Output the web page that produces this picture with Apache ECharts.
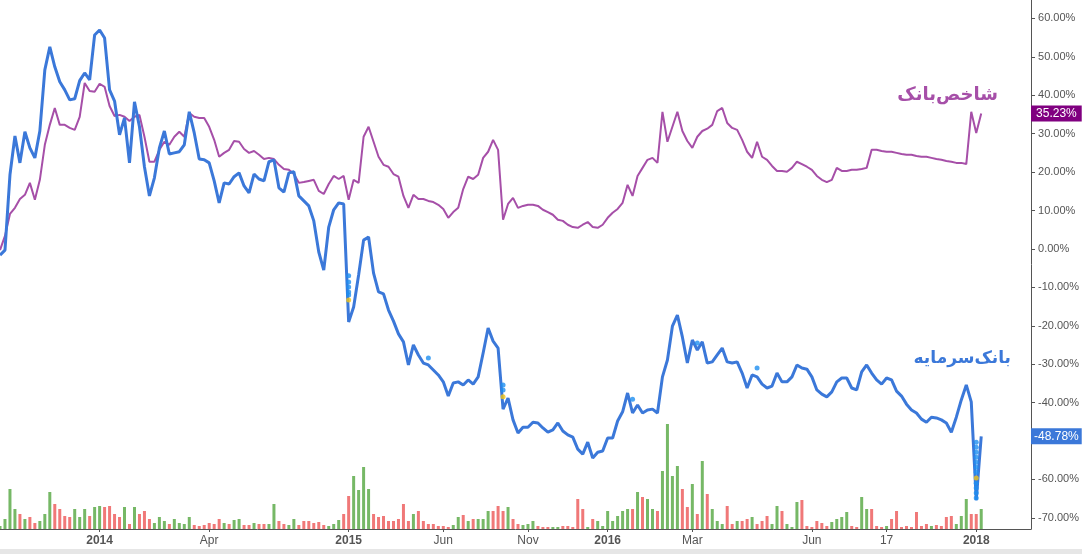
<!DOCTYPE html>
<html><head><meta charset="utf-8">
<script src="https://cdn.jsdelivr.net/npm/echarts@6/dist/echarts.min.js"></script>
<style>html,body{margin:0;padding:0;background:#fff}#c{width:1082px;height:554px}</style>
</head><body><div id="c"></div>
<script>
// Cumulative return (%) of بانک‌سرمایه (stock) per trading slot
const bankSarmayeh = [
 -1.6,-0.3,19.3,29.4,22.4,30.5,26.3,23.7,30.7,46.6,
 52.6,47.4,43.5,41.4,38.8,39.1,43.8,45.8,44.0,55.7,
 57.0,54.9,41.4,38.5,29.7,34.1,22.4,38.3,31.8,21.4,
 13.8,18.5,26.3,30.7,24.7,25.0,25.3,27.1,35.7,30.2,
 23.4,23.2,22.4,17.7,12.0,17.2,16.9,18.8,19.8,16.4,
 14.6,19.5,18.2,17.7,22.7,23.2,15.9,14.8,19.8,20.1,
 13.8,12.5,11.2,7.3,-0.8,-5.5,5.7,10.2,12.0,11.7,
 -19.0,-15.1,-6.8,2.3,3.1,-6.3,-11.2,-11.7,-15.9,-18.8,
 -22.1,-24.2,-30.2,-25.0,-27.6,-29.7,-30.2,-31.5,-32.8,-34.6,
 -38.3,-34.9,-34.6,-35.4,-34.1,-35.2,-33.3,-27.1,-20.6,-24.0,
 -25.8,-41.7,-38.8,-44.5,-47.9,-46.4,-46.4,-45.1,-45.3,-46.6,
 -47.7,-47.1,-45.3,-47.4,-48.4,-49.0,-52.1,-53.4,-50.3,-54.4,
 -52.9,-52.6,-49.2,-49.2,-44.8,-42.4,-37.5,-42.7,-40.6,-42.7,
 -41.9,-41.7,-42.7,-33.3,-28.9,-20.1,-17.2,-22.9,-29.7,-23.7,
 -26.3,-24.2,-29.7,-29.4,-27.6,-25.8,-29.4,-29.7,-29.4,-32.3,
 -36.2,-32.8,-33.3,-35.2,-36.2,-35.7,-32.3,-34.6,-34.6,-33.3,
 -30.2,-31.0,-31.3,-33.3,-36.7,-37.8,-38.5,-37.2,-34.6,-33.6,
 -33.6,-36.2,-36.7,-32.0,-30.2,-32.3,-34.1,-35.2,-33.6,-34.1,
 -37.0,-38.3,-40.4,-41.9,-42.7,-44.3,-45.1,-43.8,-44.0,-44.5,
 -45.3,-47.7,-43.8,-39.3,-35.4,-39.8,-65.4,-48.78
];
// Cumulative return (%) of شاخص‌بانک (bank index)
const bankIndex = [
 -0.3,3.4,9.1,10.7,13.0,14.1,17.2,12.8,18.0,27.1,
 32.3,36.7,32.3,32.3,31.5,31.0,34.4,43.2,41.1,40.9,
 43.0,42.2,37.2,34.6,34.9,34.4,33.3,34.4,34.9,29.2,
 22.7,22.7,25.8,27.9,27.1,29.2,30.5,29.2,35.4,34.4,
 34.1,34.1,31.8,28.4,24.0,25.0,25.8,28.1,27.9,26.0,
 25.0,25.5,24.5,23.4,23.7,23.4,21.9,20.8,20.6,19.5,
 17.2,17.4,17.7,18.0,15.1,14.3,16.9,19.0,18.2,19.0,
 12.8,18.0,17.2,29.2,31.8,27.9,24.0,21.9,21.4,19.5,
 18.8,13.8,10.7,14.1,13.0,13.0,12.5,12.2,11.5,10.4,
 8.1,9.6,10.7,15.6,18.8,18.2,19.3,23.7,25.3,28.4,
 25.8,7.6,11.7,13.3,10.7,11.2,11.5,11.5,11.2,10.2,
 9.6,8.9,7.6,7.3,6.3,5.7,5.5,6.3,7.0,5.7,
 5.5,6.3,8.1,9.4,10.4,12.0,16.7,13.8,19.0,21.1,
 23.2,23.7,22.4,35.7,27.9,31.8,35.7,30.7,28.1,26.3,
 29.2,30.7,31.3,32.3,35.9,36.7,32.8,31.5,31.0,28.4,
 25.3,23.7,27.9,24.0,23.2,21.6,20.3,20.3,20.1,21.1,
 22.7,22.1,21.4,20.6,19.0,18.0,17.4,18.0,21.1,20.3,
 20.3,20.6,20.6,20.8,21.1,25.8,25.8,25.5,25.3,25.3,
 25.0,24.7,24.5,24.5,24.2,24.0,24.0,23.7,23.4,23.2,
 22.9,22.7,22.4,22.4,22.1,35.7,30.2,35.23
];
// Traded volume (relative units)
const volume = [
 3,10,40,20,15,10,12,6,8,15,
 37,25,20,13,12,20,12,20,13,22,
 23,22,23,15,12,22,5,22,15,18,
 10,6,12,8,5,10,6,5,12,4,
 3,4,6,5,10,6,5,9,10,4,
 4,6,5,5,5,25,8,5,4,10,
 4,8,8,6,7,4,3,5,9,15,
 33,53,39,62,40,15,12,13,8,8,
 10,25,8,15,18,8,5,5,3,3,
 2,4,12,14,8,10,10,10,18,18,
 23,18,22,10,5,4,5,8,3,2,
 2,2,2,3,3,2,30,20,2,10,
 8,3,18,8,13,18,20,20,37,32,
 30,20,18,58,105,53,63,40,22,45,
 15,68,35,20,8,5,23,5,8,8,
 10,12,5,8,13,5,23,18,5,2,
 27,29,3,2,8,6,3,7,10,12,
 17,3,2,32,20,20,3,2,3,10,
 18,2,3,2,17,3,5,3,4,3,
 12,13,5,13,30,15,15,20
];
const tickIndex = [20, 42, 70, 89, 106, 122, 139, 163, 178, 196];
const tickText = ['2014','Apr','2015','Jun','Nov','2016','Mar','Jun','17','2018'];
const tickBold = [true,false,true,false,false,true,false,false,false,true];
const yTicks = [-70,-60,-50,-40,-30,-20,-10,0,10,20,30,40,50,60];
const markersBlue = [[70,-7.0],[70,-8.6],[70,-9.9],[70,-11.2],[70,-12.0],[86,-28.4],[101,-35.4],[101,-36.7],[127,-39.1],[140,-24.5],[152,-31.0],
 [196,-50.3],[196,-51.6],[196,-52.9],[196,-54.2],[196,-55.5],[196,-56.8],[196,-58.1],[196,-61.0],[196,-62.2],[196,-63.5],[196,-64.8]];
const markersGold = [[70,-13.3],[101,-38.5],[196,-59.6]];
const totalSlots = 208;

const categories = Array.from({length: totalSlots}, (_, i) => String(i));
const blueC = '#3b78d9', purpleC = '#a64fa8';
const chart = echarts.init(document.getElementById('c'), null, {renderer: 'canvas'});
const lastBlue = bankSarmayeh[bankSarmayeh.length - 1];
const lastPurple = bankIndex[bankIndex.length - 1];
const isTick = (idx) => tickIndex.indexOf(idx) >= 0;
chart.setOption({
  animation: false,
  backgroundColor: '#ffffff',
  grid: {left: 0, right: 49, top: 0, bottom: 25, containLabel: false},
  xAxis: {
    type: 'category', data: categories, boundaryGap: false,
    axisLine: {show: true, onZero: false, lineStyle: {color: '#555', width: 1}},
    axisTick: {show: true, interval: isTick, length: 3, lineStyle: {color: '#555'}},
    splitLine: {show: false},
    axisLabel: {
      interval: isTick,
      margin: 6,
      color: '#555', fontSize: 12, fontFamily: 'Arial, "Liberation Sans", sans-serif',
      formatter: (v, idx) => {
        const k = tickIndex.indexOf(Number(v));
        if (k < 0) return '';
        return tickBold[k] ? '{b|' + tickText[k] + '}' : tickText[k];
      },
      rich: {b: {fontWeight: 'bold', fontSize: 12, color: '#555', fontFamily: 'Arial, "Liberation Sans", sans-serif'}}
    }
  },
  yAxis: [{
    type: 'value', position: 'right', min: -72.9, max: 64.8,
    axisLine: {show: true, lineStyle: {color: '#555', width: 1}},
    axisTick: {show: true, length: 4, customValues: yTicks, lineStyle: {color: '#555'}},
    splitLine: {show: false},
    axisLabel: {customValues: yTicks, margin: 7, color: '#555', fontSize: 11,
      fontFamily: 'Arial, "Liberation Sans", sans-serif',
      formatter: (v) => v.toFixed(2) + '%'}
  }, {
    type: 'value', min: 0, max: 529, show: false
  }],
  series: [{
    type: 'bar', yAxisIndex: 1, data: volume, barWidth: 3, silent: true, z: 1,
    itemStyle: {color: (p) => {
      const i = p.dataIndex;
      const up = i === 0 ? true : bankSarmayeh[i] >= bankSarmayeh[i - 1];
      return up ? '#76b866' : '#f07878';
    }}
  }, {
    type: 'line', name: 'شاخص‌بانک', data: bankIndex, symbol: 'none', z: 3,
    lineStyle: {color: purpleC, width: 2}, itemStyle: {color: purpleC},
    silent: true,
    markLine: {
      silent: true, symbol: ['none', 'none'], animation: false,
      lineStyle: {width: 0, color: 'rgba(0,0,0,0)'},
      label: {show: true, position: 'end', distance: 0, color: '#fff', backgroundColor: '#800080',
        padding: [2, 5, 2, 5], fontSize: 12, fontFamily: 'Arial, "Liberation Sans", sans-serif',
        formatter: () => lastPurple.toFixed(2) + '%'},
      data: [{yAxis: lastPurple}]
    }
  }, {
    type: 'line', name: 'بانک‌سرمایه', data: bankSarmayeh, symbol: 'none', z: 4,
    lineStyle: {color: blueC, width: 3}, itemStyle: {color: blueC},
    silent: true,
    markLine: {
      silent: true, symbol: ['none', 'none'], animation: false,
      lineStyle: {width: 0, color: 'rgba(0,0,0,0)'},
      label: {show: true, position: 'end', distance: 0, color: '#fff', backgroundColor: blueC,
        padding: [2, 3, 2, 3], fontSize: 12, fontFamily: 'Arial, "Liberation Sans", sans-serif',
        formatter: () => lastBlue.toFixed(2) + '%'},
      data: [{yAxis: lastBlue}]
    }
  }, {
    type: 'scatter', data: markersBlue, symbolSize: 5, z: 5, silent: true,
    itemStyle: {color: '#1e8ef0'}
  }, {
    type: 'scatter', data: markersGold, symbolSize: 5, z: 6, silent: true,
    itemStyle: {color: '#f2c414'}
  }],
  graphic: [
    {type: 'text', x: 998, y: 95, z: 10, silent: true,
      style: {text: 'شاخص‌بانک', align: 'right', verticalAlign: 'middle', fill: purpleC,
        font: 'bold 18px "DejaVu Sans"'}},
    {type: 'text', x: 1011, y: 359, z: 10, silent: true,
      style: {text: 'بانک‌سرمایه', align: 'right', verticalAlign: 'middle', fill: blueC,
        font: 'bold 17px "DejaVu Sans"'}},
    {type: 'rect', z: 10, silent: true, shape: {x: 0, y: 549, width: 1082, height: 5},
      style: {fill: '#e6e6e6'}}
  ]
});
</script></body></html>
